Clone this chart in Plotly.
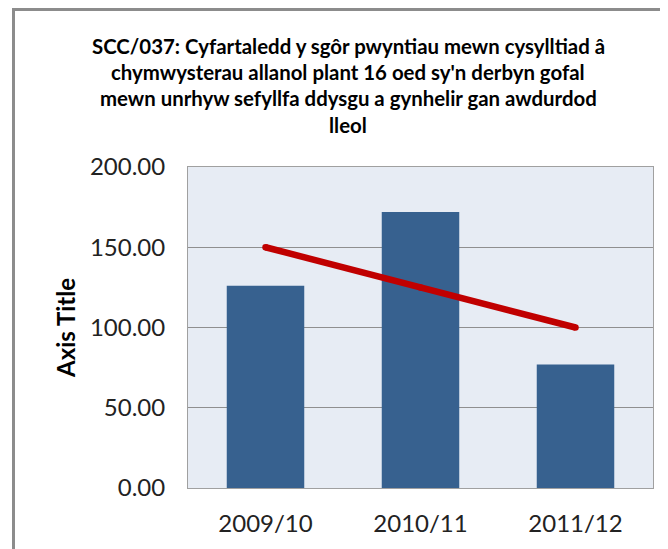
import plotly.graph_objects as go

categories = ["2009/10", "2010/11", "2011/12"]
bar_values = [126, 172, 77]
target_values = [150, 125, 100]
y_tick_values = [0, 50, 100, 150, 200]
y_tick_labels = ["0.00", "50.00", "100.00", "150.00", "200.00"]
title_lines = [
    "SCC/037: Cyfartaledd y sgôr pwyntiau mewn cysylltiad â",
    "chymwysterau allanol plant 16 oed sy'n derbyn gofal",
    "mewn unrhyw sefyllfa ddysgu a gynhelir gan awdurdod",
    "lleol",
]

OFF = 8  # default body margin of the page
W, H = 668 - OFF, 549 - OFF
L, R, T, B = 188 - OFF, 15, 167 - OFF, 61
pw, ph = W - L - R, H - T - B

FONT = "Lato"

fig = go.Figure()
fig.add_trace(go.Bar(x=categories, y=bar_values, marker=dict(color="#37618f", line=dict(width=0)),
                     showlegend=False))
fig.add_trace(go.Scatter(x=categories, y=target_values, mode="lines+markers",
                         line=dict(color="#c00000", width=6.5),
                         marker=dict(color="#c00000", size=6.5), showlegend=False))

bx = 13.5 - OFF
by = 9.5 - OFF
fig.add_shape(type="rect", xref="paper", yref="paper",
              x0=(bx - L) / pw, x1=1.2, y0=-0.5, y1=1 + (T - by) / ph,
              line=dict(color="#8c8c8c", width=3), layer="below")

line_centers = [46, 72, 98, 124.5]
for txt, yc in zip(title_lines, line_centers):
    fig.add_annotation(text=txt, xref="paper", yref="paper",
                       x=(348 - OFF - L) / pw, y=1 + (T - (yc - OFF)) / ph,
                       xanchor="center", yanchor="middle", showarrow=False,
                       font=dict(family=FONT, size=20.4, color="black", weight="bold"))

fig.update_layout(
    width=W, height=H,
    margin=dict(l=L, r=R, t=T, b=B, autoexpand=False),
    paper_bgcolor="white", plot_bgcolor="#e7ecf4",
    bargap=0.5,
    font=dict(family=FONT, color="#222222"),
)
fig.update_xaxes(showgrid=False, showline=True, linecolor="#a0a0a0", linewidth=1, mirror=True,
                 ticks="", tickfont=dict(size=24, family=FONT, color="#222222"),
                 ticklabelstandoff=14)
fig.update_yaxes(range=[0, 200], tickvals=y_tick_values, ticktext=y_tick_labels,
                 showgrid=True, gridcolor="#8f8f8f", gridwidth=1,
                 showline=True, linecolor="#a0a0a0", linewidth=1, mirror=True,
                 zeroline=False, ticks="", tickfont=dict(size=24, family=FONT, color="#222222"),
                 ticklabelstandoff=17,
                 title=dict(text="Axis Title", standoff=7,
                            font=dict(size=24, family=FONT, color="black", weight="bold")))

fig.write_html("out.html")
